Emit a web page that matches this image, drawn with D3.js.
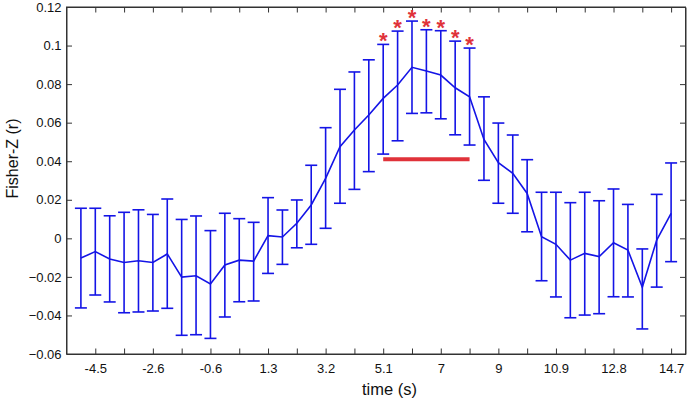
<!DOCTYPE html>
<html><head><meta charset="utf-8">
<script src="https://cdn.jsdelivr.net/npm/d3@7"></script>
<style>body{margin:0;background:#fff}svg{display:block}</style>
</head><body>
<script>
// ---- data ----
const pointIndex = d3.range(1, 43); // 42 time samples
const meanZ = [-0.0102,-0.0069,-0.0107,-0.0125,-0.0116,-0.0125,-0.0081,-0.0201,-0.0194,-0.0237,
  -0.0138,-0.0113,-0.0118,0.0014,0.0007,0.0078,0.0173,0.0311,0.0475,0.0562,
  0.0640,0.0726,0.0795,0.0887,0.0868,0.0847,0.0781,0.0734,0.0513,0.0392,
  0.0337,0.0233,0.0008,-0.0031,-0.0113,-0.0078,-0.0095,-0.0023,-0.0061,-0.0254,
  -0.0009,0.0130];
const upperZ = [0.0156,0.0156,0.0117,0.0135,0.0148,0.0124,0.0204,0.0098,0.0116,0.0040,
  0.0130,0.0102,0.0083,0.0211,0.0147,0.0199,0.0379,0.0574,0.0773,0.0863,
  0.0926,0.1006,0.1075,0.1127,0.1082,0.1077,0.1023,0.0987,0.0734,0.0598,
  0.0536,0.0408,0.0239,0.0239,0.0185,0.0239,0.0195,0.0256,0.0176,-0.0055,
  0.0228,0.0391];
const lowerZ = [-0.0361,-0.0294,-0.0330,-0.0386,-0.0382,-0.0377,-0.0363,-0.0503,-0.0500,-0.0519,
  -0.0408,-0.0329,-0.0325,-0.0182,-0.0135,-0.0049,-0.0031,0.0052,0.0182,0.0254,
  0.0346,0.0437,0.0506,0.0648,0.0651,0.0620,0.0537,0.0484,0.0301,0.0182,
  0.0130,0.0034,-0.0220,-0.0304,-0.0412,-0.0398,-0.0391,-0.0303,-0.0304,-0.0470,
  -0.0253,-0.0121];
const significantIdx = [22,23,24,25,26,27,28];
const sigBarLevel = 0.041;
const xTickIdx = d3.range(2, 43, 2);
const xLabelIdx = [2,6,10,14,18,22,26,30,34,38,42];
const xTickLabels = ["-4.5","-2.6","-0.6","1.3","3.2","5.1","7","9","10.9","12.8","14.7"];
const yTicks = [-0.06,-0.04,-0.02,0,0.02,0.04,0.06,0.08,0.1,0.12];

// ---- layout ----
const W = 691, H = 403;
const L = 66.5, R = 685.5, T = 7, B = 354;
const svg = d3.select("body").append("svg").attr("width", W).attr("height", H);
const x = d3.scaleLinear().domain([0, 43]).range([L, R]);
const y = d3.scaleLinear().domain([-0.06, 0.12]).range([B, T]);
const axisColor = "#333";
const blue = "#1414e6";
const red = "#e0323a";
const font = "'Liberation Sans', Arial, Helvetica, sans-serif";

// axes (box with inward ticks)
const tl = 5.5;
const fmtY = v => v === 0 ? "0" : d3.format("~g")(v);
const xb = svg.append("g").attr("transform", `translate(0,${B})`)
  .call(d3.axisBottom(x).tickValues(xTickIdx).tickSizeInner(-tl).tickSizeOuter(0)
    .tickFormat(d => { const k = xLabelIdx.indexOf(d); return k >= 0 ? xTickLabels[k] : ""; }));
const xt = svg.append("g").attr("transform", `translate(0,${T})`)
  .call(d3.axisTop(x).tickValues(xTickIdx).tickSizeInner(-tl).tickSizeOuter(0).tickFormat(""));
const yl = svg.append("g").attr("transform", `translate(${L},0)`)
  .call(d3.axisLeft(y).tickValues(yTicks).tickSizeInner(-tl).tickSizeOuter(0).tickFormat(fmtY));
const yr = svg.append("g").attr("transform", `translate(${R},0)`)
  .call(d3.axisRight(y).tickValues(yTicks).tickSizeInner(-tl).tickSizeOuter(0).tickFormat(""));
[xb, xt, yl, yr].forEach(g => {
  g.select(".domain").attr("stroke", axisColor).attr("stroke-width", 1);
  g.selectAll(".tick line").attr("stroke", axisColor).attr("stroke-width", 1);
  g.selectAll("text").attr("font-family", font).attr("font-size", 13).attr("fill", "#111");
});
xb.selectAll("text").attr("dy", "1.25em");
yl.selectAll("text").attr("dx", "-0.15em");
svg.append("rect").attr("x", L).attr("y", T).attr("width", R - L).attr("height", B - T)
  .attr("fill", "none").attr("stroke", axisColor).attr("stroke-width", 1);

// axis titles
svg.append("text").attr("x", 389.5).attr("y", 395).attr("text-anchor", "middle")
  .attr("font-family", font).attr("font-size", 16.5).attr("fill", "#111").text("time (s)");
svg.append("text").attr("transform", `translate(18,158.5) rotate(-90)`)
  .attr("text-anchor", "middle").attr("font-family", font).attr("font-size", 16)
  .attr("fill", "#111").text("Fisher-Z (r)");

// error bars
const cap = 6;
const eb = svg.append("g").attr("stroke", blue).attr("stroke-width", 1.6).attr("fill", "none");
pointIndex.forEach((p, i) => {
  const cx = x(p);
  eb.append("line").attr("x1", cx).attr("x2", cx).attr("y1", y(upperZ[i])).attr("y2", y(lowerZ[i]));
  eb.append("line").attr("x1", cx - cap).attr("x2", cx + cap).attr("y1", y(upperZ[i])).attr("y2", y(upperZ[i]));
  eb.append("line").attr("x1", cx - cap).attr("x2", cx + cap).attr("y1", y(lowerZ[i])).attr("y2", y(lowerZ[i]));
});

// mean line
svg.append("path").datum(pointIndex)
  .attr("d", d3.line().x(p => x(p)).y((p, i) => y(meanZ[i])))
  .attr("fill", "none").attr("stroke", blue).attr("stroke-width", 1.6);

// significance bar
svg.append("line")
  .attr("x1", x(d3.min(significantIdx))).attr("x2", x(d3.max(significantIdx)))
  .attr("y1", y(sigBarLevel)).attr("y2", y(sigBarLevel))
  .attr("stroke", red).attr("stroke-width", 4);

// stars
const fs = 22;
svg.append("g").selectAll("text").data(significantIdx).join("text")
  .attr("x", d => x(d)).attr("y", d => y(upperZ[d - 1]) - 8.5 + 0.57 * fs)
  .attr("text-anchor", "middle").attr("font-family", font).attr("font-size", fs)
  .attr("font-weight", "bold").attr("fill", red).text("*");
</script>
</body></html>
